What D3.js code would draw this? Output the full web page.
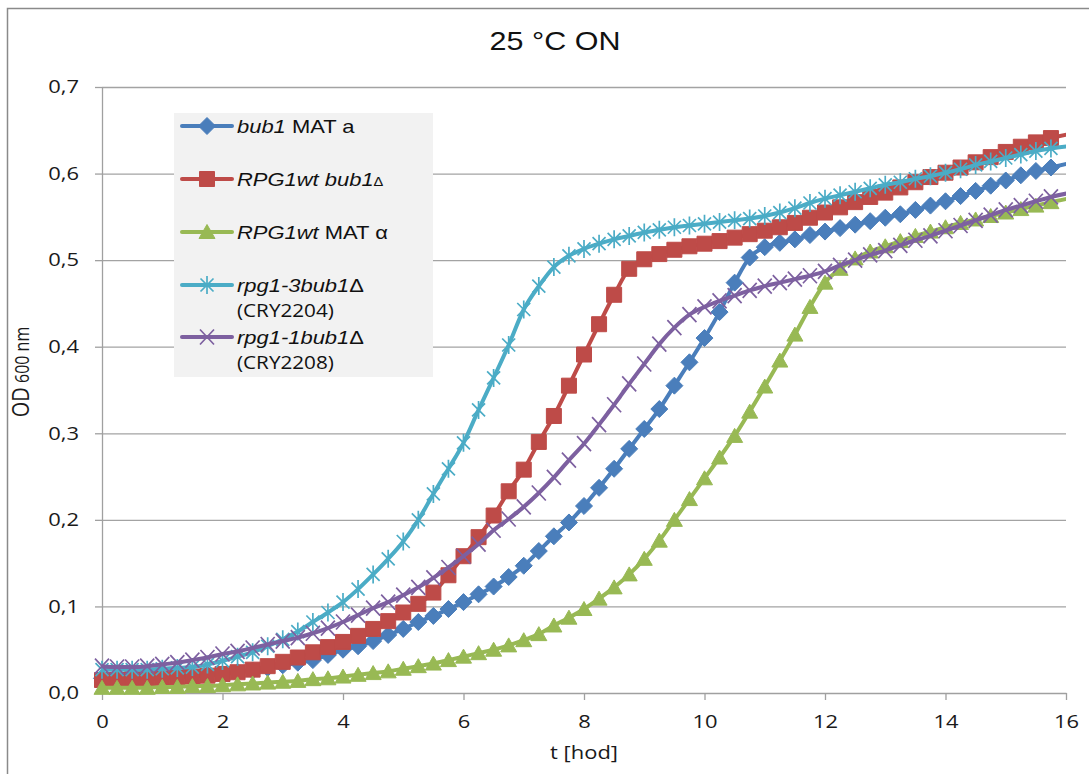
<!DOCTYPE html>
<html>
<head>
<meta charset="utf-8">
<title>25 °C ON</title>
<style>
  body { margin: 0; background: #fff; }
  svg { display: block; background: #fff; }
  .axis text { font-family: "Open Sans", sans-serif; font-size: 18px; fill: #1a1a1a; }
  .axis line, .axis path { stroke: #a0a0a0; stroke-width: 1.3; }
  .grid line { stroke: #a3a3a3; stroke-width: 1.3; }
</style>
</head>
<body>
<svg width="1089" height="774"></svg>
<script src="https://cdn.jsdelivr.net/npm/d3@7"></script>
<script>

// sampling times [h] – the last point sits past the axis end and is clipped
var times = [0, 0.25, 0.5, 0.75, 1, 1.25, 1.5, 1.75, 2, 2.25, 2.5, 2.75, 3, 3.25, 3.5, 3.75,
    4, 4.25, 4.5, 4.75, 5, 5.25, 5.5, 5.75, 6, 6.25, 6.5, 6.75, 7, 7.25, 7.5, 7.75,
    8, 8.25, 8.5, 8.75, 9, 9.25, 9.5, 9.75, 10, 10.25, 10.5, 10.75, 11, 11.25, 11.5, 11.75,
    12, 12.25, 12.5, 12.75, 13, 13.25, 13.5, 13.75, 14, 14.25, 14.5, 14.75, 15, 15.25, 15.5, 15.75,
    16.25];

var bub1MatA = [0.017, 0.017, 0.017, 0.018, 0.018, 0.019, 0.020, 0.021,
    0.022, 0.024, 0.026, 0.029, 0.032, 0.035, 0.038, 0.044,
    0.050, 0.054, 0.060, 0.067, 0.074, 0.082, 0.089, 0.097,
    0.105, 0.114, 0.123, 0.134, 0.147, 0.164, 0.181, 0.197,
    0.216, 0.237, 0.259, 0.282, 0.305, 0.328, 0.355, 0.382,
    0.410, 0.440, 0.474, 0.503, 0.515, 0.520, 0.524, 0.529,
    0.533, 0.537, 0.541, 0.545, 0.549, 0.553, 0.558, 0.563,
    0.568, 0.574, 0.580, 0.586, 0.592, 0.598, 0.603, 0.607,
    0.615];

var rpg1wtBub1 = [0.015, 0.015, 0.016, 0.016, 0.017, 0.018, 0.019, 0.020,
    0.022, 0.024, 0.027, 0.031, 0.036, 0.041, 0.047, 0.053,
    0.059, 0.066, 0.074, 0.083, 0.093, 0.103, 0.116, 0.136,
    0.158, 0.180, 0.205, 0.233, 0.258, 0.290, 0.320, 0.355,
    0.391, 0.426, 0.460, 0.490, 0.501, 0.507, 0.512, 0.516,
    0.519, 0.522, 0.526, 0.530, 0.534, 0.538, 0.543, 0.549,
    0.555, 0.561, 0.567, 0.573, 0.578, 0.584, 0.590, 0.596,
    0.601, 0.607, 0.613, 0.619, 0.625, 0.631, 0.636, 0.641,
    0.648];

var rpg1wtMatAlpha = [0.006, 0.006, 0.006, 0.006, 0.007, 0.007, 0.008, 0.008,
    0.009, 0.010, 0.011, 0.012, 0.013, 0.014, 0.016, 0.017,
    0.019, 0.021, 0.023, 0.025, 0.028, 0.031, 0.034, 0.038,
    0.042, 0.046, 0.050, 0.055, 0.061, 0.068, 0.078, 0.087,
    0.097, 0.109, 0.122, 0.137, 0.155, 0.176, 0.200, 0.224,
    0.248, 0.272, 0.297, 0.325, 0.354, 0.384, 0.414, 0.446,
    0.474, 0.490, 0.502, 0.510, 0.516, 0.522, 0.528, 0.533,
    0.538, 0.543, 0.547, 0.551, 0.555, 0.559, 0.563, 0.567,
    0.574];

var rpg13Bub1 = [0.027, 0.027, 0.027, 0.027, 0.028, 0.029, 0.030, 0.033,
    0.037, 0.042, 0.047, 0.054, 0.062, 0.071, 0.082, 0.093,
    0.105, 0.120, 0.137, 0.155, 0.175, 0.200, 0.230, 0.259,
    0.289, 0.327, 0.364, 0.402, 0.443, 0.470, 0.492, 0.505,
    0.513, 0.519, 0.524, 0.528, 0.532, 0.535, 0.538, 0.540,
    0.542, 0.544, 0.546, 0.548, 0.551, 0.555, 0.560, 0.566,
    0.571, 0.575, 0.579, 0.583, 0.587, 0.590, 0.594, 0.597,
    0.601, 0.605, 0.610, 0.614, 0.618, 0.622, 0.626, 0.629,
    0.633];

var rpg11Bub1 = [0.031, 0.030, 0.030, 0.031, 0.033, 0.035, 0.038, 0.041,
    0.045, 0.048, 0.052, 0.056, 0.060, 0.064, 0.069, 0.075,
    0.082, 0.090, 0.098, 0.105, 0.113, 0.122, 0.133, 0.145,
    0.158, 0.172, 0.188, 0.201, 0.215, 0.231, 0.249, 0.269,
    0.288, 0.310, 0.333, 0.357, 0.380, 0.403, 0.422, 0.437,
    0.446, 0.453, 0.459, 0.465, 0.470, 0.474, 0.478, 0.482,
    0.487, 0.494, 0.500, 0.506, 0.511, 0.517, 0.523, 0.528,
    0.534, 0.540, 0.546, 0.552, 0.558, 0.563, 0.568, 0.573,
    0.580];

var xTickValues = [0, 2, 4, 6, 8, 10, 12, 14, 16];
var yTickValues = [0, 0.1, 0.2, 0.3, 0.4, 0.5, 0.6, 0.7];

var legendLabels = [
    [["bub1", "i"], [" MAT a", "n"]],
    [["RPG1wt bub1", "i"], ["Δ", "s"]],
    [["RPG1wt", "i"], [" MAT α", "n"]],
    [["rpg1-3bub1", "i"], ["Δ", "n"]],
    [["rpg1-1bub1", "i"], ["Δ", "n"]]
];
var legendSubLabels = [null, null, null, "(CRY2204)", "(CRY2208)"];

var series = [
    {values: bub1MatA,       color: "#4a7ebb", marker: "diamond"},
    {values: rpg1wtBub1,     color: "#be4b48", marker: "square"},
    {values: rpg1wtMatAlpha, color: "#98b954", marker: "triangle"},
    {values: rpg13Bub1,      color: "#4bacc6", marker: "star"},
    {values: rpg11Bub1,      color: "#7d60a0", marker: "cross"}
];

// the picture is stretched sideways, so is the text
var SX = 1.22;

var svg = d3.select("svg"),
    plotLeft = 102, plotRight = 1066, plotTop = 87, plotBottom = 693;

var x = d3.scaleLinear().domain([0, 16]).range([plotLeft, plotRight]),
    y = d3.scaleLinear().domain([0, 0.7]).range([plotBottom, plotTop]);

var fmt = function(d) { return d.toFixed(1).replace(".", ","); };

function stretch(sel) {
    sel.each(function() {
        var t = d3.select(this), tx = +t.attr("x") || 0;
        t.attr("transform", "translate(" + tx + ",0) scale(" + SX + ",1) translate(" + (-tx) + ",0)");
    });
}

// chart border
svg.append("rect")
    .attr("x", 7.5).attr("y", 8.5)
    .attr("width", 1100).attr("height", 800)
    .attr("fill", "none").attr("stroke", "#8a8a8a").attr("stroke-width", 1.5);

// title
svg.append("text")
    .attr("transform", "translate(555,50) scale(" + SX + ",1)")
    .attr("text-anchor", "middle")
    .style("font-family", "'Liberation Sans', Arial, sans-serif")
    .style("font-size", "25px")
    .attr("fill", "#111")
    .text("25 °C ON");

// horizontal grid
svg.append("g")
    .attr("class", "grid")
    .attr("transform", "translate(" + plotLeft + ",0)")
    .call(d3.axisLeft(y).tickValues(yTickValues.slice(1)).tickSize(-(plotRight - plotLeft)).tickFormat(""))
    .call(function(g) { g.select(".domain").remove(); });

// y axis
var gy = svg.append("g")
    .attr("class", "axis")
    .attr("transform", "translate(" + plotLeft + ",0)")
    .call(d3.axisLeft(y).tickValues(yTickValues).tickSize(7).tickSizeOuter(0).tickPadding(16).tickFormat(fmt));
gy.selectAll("text").call(stretch);

// x axis
var gx = svg.append("g")
    .attr("class", "axis")
    .attr("transform", "translate(0," + plotBottom + ")")
    .call(d3.axisBottom(x).tickValues(xTickValues).tickSize(7).tickSizeOuter(0).tickPadding(15));
gx.selectAll("text").call(stretch);

// axis titles
svg.append("text")
    .attr("transform", "translate(584,759) scale(" + SX + ",1)")
    .attr("text-anchor", "middle")
    .style("font-family", "'Open Sans', sans-serif")
    .style("font-size", "18px")
    .attr("fill", "#1a1a1a")
    .text("t [hod]");

var yTitle = svg.append("text")
    .attr("transform", "translate(29,372) scale(" + SX + ",1) rotate(-90)")
    .attr("text-anchor", "middle")
    .style("font-family", "'Open Sans', sans-serif")
    .attr("fill", "#1a1a1a");
yTitle.append("tspan").style("font-size", "20px").text("OD");
yTitle.append("tspan").style("font-size", "16px").text(" 600 nm");

// markers
var markerPaths = {
    diamond: "M0,-8.5L8.5,0L0,8.5L-8.5,0Z",
    square: "M-7.5,-7.5H7.5V7.5H-7.5Z",
    triangle: "M0,-7.5L8,6.5L-8,6.5Z",
    star: "M-6.5,-6.5L6.5,6.5M-6.5,6.5L6.5,-6.5M0,-9V9",
    cross: "M-7,-7.5L7,7.5M-7,7.5L7,-7.5"
};
function drawMarker(sel, s) {
    var filled = s.marker === "diamond" || s.marker === "square" || s.marker === "triangle";
    sel.attr("d", markerPaths[s.marker])
        .attr("fill", filled ? s.color : "none")
        .attr("stroke", s.color)
        .attr("stroke-width", filled ? 1 : 1.7);
}

svg.append("clipPath").attr("id", "plot-clip")
    .append("rect").attr("x", 0).attr("y", 0).attr("width", plotRight).attr("height", 774);

var plot = svg.append("g").attr("clip-path", "url(#plot-clip)");

var line = d3.line()
    .x(function(d) { return x(d[0]); })
    .y(function(d) { return y(d[1]); })
    .curve(d3.curveMonotoneX);

series.forEach(function(s) {
    var pts = times.map(function(t, i) { return [t, s.values[i]]; });
    var g = plot.append("g");
    g.append("path")
        .attr("d", line(pts))
        .attr("fill", "none")
        .attr("stroke", s.color)
        .attr("stroke-width", 4)
        .attr("stroke-linejoin", "round");
    g.selectAll("path.m")
        .data(pts)
        .enter().append("path")
        .attr("class", "m")
        .attr("transform", function(d) { return "translate(" + x(d[0]) + "," + y(d[1]) + ")"; })
        .call(drawMarker, s);
});

// legend
var legend = svg.append("g");
legend.append("rect")
    .attr("x", 174).attr("y", 113)
    .attr("width", 259).attr("height", 264)
    .attr("fill", "#f2f2f2");

var entryY = [126, 179, 232, 285, 337];
series.forEach(function(s, i) {
    var g = legend.append("g").attr("transform", "translate(0," + entryY[i] + ")");
    g.append("line")
        .attr("x1", 182).attr("x2", 232)
        .attr("stroke", s.color).attr("stroke-width", 4).attr("stroke-linecap", "round");
    g.append("path").attr("transform", "translate(207,0)").call(drawMarker, s);

    var t = g.append("text")
        .attr("transform", "translate(237,6.5) scale(" + SX + ",1)")
        .style("font-family", "'Liberation Sans', Arial, sans-serif")
        .style("font-size", "18px")
        .attr("fill", "#111");
    legendLabels[i].forEach(function(p) {
        t.append("tspan")
            .style("font-style", p[1] === "i" ? "italic" : "normal")
            .style("font-size", p[1] === "s" ? "12px" : "18px")
            .text(p[0]);
    });
    if (legendSubLabels[i]) {
        g.append("text")
            .attr("transform", "translate(237,32) scale(1.15,1)")
            .style("font-family", "'Open Sans', sans-serif")
            .style("font-size", "18px")
            .attr("fill", "#111")
            .text(legendSubLabels[i]);
    }
});

</script>
</body>
</html>
